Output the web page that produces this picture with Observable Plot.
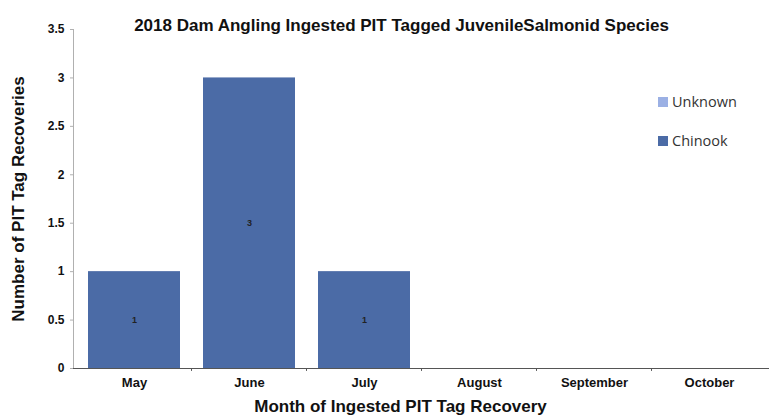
<!DOCTYPE html>
<html>
<head>
<meta charset="utf-8">
<script src="https://cdn.jsdelivr.net/npm/d3@7"></script>
<script src="https://cdn.jsdelivr.net/npm/@observablehq/plot@0.6"></script>
<style>
  body { margin: 0; background: #fff; }
  #wrap { position: relative; width: 769px; height: 420px; font-family: "Liberation Sans", Arial, sans-serif; }
  .legend { position: absolute; left: 658px; font-family: "Open Sans", "Noto Sans", sans-serif; font-size: 14.5px; color: #333; display: flex; align-items: center; }
  .legend span.sw { display: inline-block; width: 10px; height: 10px; margin-right: 4px; }
</style>
</head>
<body>
<div id="wrap"></div>
<script>
const months = ["May", "June", "July", "August", "September", "October"];
const chinook = [1, 3, 1, 0, 0, 0];
const unknown = [0, 0, 0, 0, 0, 0];
const species = ["Unknown", "Chinook"];
const colors = ["#9bb0e4", "#4b6ba6"];
const yTicks = [0, 0.5, 1, 1.5, 2, 2.5, 3, 3.5];

const data = months.flatMap((m, i) => [
  {month: m, species: "Chinook", value: chinook[i]},
  {month: m, species: "Unknown", value: unknown[i]}
]);
const labels = data.filter(d => d.species === "Chinook" && d.value > 0);

const chart = Plot.plot({
  width: 769,
  height: 420,
  marginLeft: 73,
  marginRight: 0,
  marginTop: 29,
  marginBottom: 52,
  style: {fontFamily: "'Liberation Sans', Arial, sans-serif", background: "#fff"},
  x: {domain: months, paddingInner: 0.2, paddingOuter: 0.12, label: null},
  y: {type: "linear", domain: [0, 3.5], ticks: yTicks, label: null},
  color: {domain: species, range: colors},
  marks: [
    Plot.barY(data, Plot.stackY({x: "month", y: "value", fill: "species", order: ["Chinook", "Unknown"]})),
    Plot.text(labels, {x: "month", y: d => d.value / 2, text: d => String(d.value), fill: "#222", fontSize: 9, fontWeight: "bold"}),
    Plot.frame({anchor: "left", stroke: "#b0b0b0"}),
    Plot.ruleY([0], {stroke: "#555", strokeWidth: 1.2}),
    Plot.ruleX(months.slice(1), {x: d => d, dx: -58, y1: 0, y2: -0.03, stroke: "#555"}),
    Plot.axisY({ticks: yTicks, tickSize: 3, tickFormat: d => String(d), stroke: "#b0b0b0", fill: "#111", fontSize: 12, fontWeight: "bold", tickPadding: 6, label: null}),
    Plot.axisX({tickSize: 0, tickPadding: 9, fill: "#111", fontSize: 13, fontWeight: "bold", label: null}),
    Plot.text(["2018 Dam Angling Ingested PIT Tagged JuvenileSalmonid Species"], {frameAnchor: "top", dx: -20, dy: -11, fontSize: 17, fontWeight: "bold", fill: "#111"}),
    Plot.text(["Month of Ingested PIT Tag Recovery"], {frameAnchor: "bottom", dx: -21, dy: 43, fontSize: 17, fontWeight: "bold", fill: "#111"}),
    Plot.text(["Number of PIT Tag Recoveries"], {frameAnchor: "left", textAnchor: "middle", dx: -55, rotate: -90, fontSize: 17, fontWeight: "bold", fill: "#111"})
  ]
});
const wrap = document.getElementById("wrap");
wrap.appendChild(chart);

const tops = [92, 131];
species.forEach((s, i) => {
  const div = document.createElement("div");
  div.className = "legend";
  div.style.top = tops[i] + "px";
  div.innerHTML = `<span class="sw" style="background:${colors[i]}"></span>${s}`;
  wrap.appendChild(div);
});
</script>
</body>
</html>
